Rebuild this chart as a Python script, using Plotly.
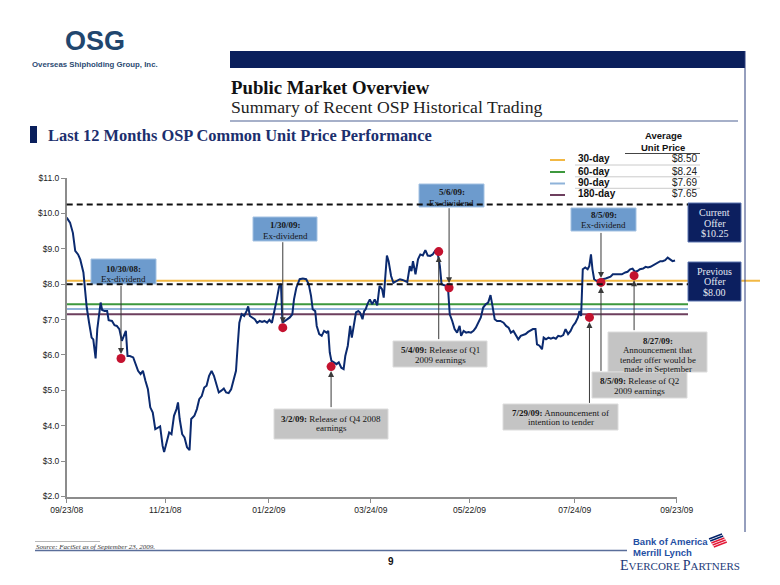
import plotly.graph_objects as go
import pandas as pd

W, H = 780, 585

# ---------------- data ----------------
start_date = "2008-09-23"
day_offsets = [
    0, 2.0, 3.7, 5.1, 6.8, 8.1, 10.0, 11.0, 12.0, 13.4,
    14.9, 15.9, 17.3, 18.3, 19.3, 20.3, 21.2, 22.7, 24.2, 25.1,
    27.1, 28.6, 30.0, 31.5, 33.0, 34.2, 35.4, 36.4, 37.8, 39.8,
    41.3, 42.7, 44.2, 45.6, 47.1, 48.6, 50.0, 51.5, 53.0, 54.4,
    55.9, 57.4, 58.3, 59.8, 61.3, 62.7, 64.2, 65.7, 66.6, 67.6,
    69.1, 70.5, 72.0, 73.5, 74.5, 76.4, 77.9, 79.3, 80.8, 82.3,
    83.7, 85.2, 86.7, 88.1, 89.6, 91.0, 92.5, 94.0, 95.4, 96.9,
    98.4, 99.8, 101.3, 102.3, 103.3, 104.7, 106.2, 107.6, 108.6, 109.6,
    111.1, 112.5, 114.0, 115.5, 116.9, 118.4, 119.9, 121.3, 122.8, 124.2,
    125.7, 127.2, 128.2, 129.1, 130.6, 132.1, 133.5, 135.0, 136.0, 137.4,
    139.4, 141.3, 143.3, 144.8, 146.2, 147.2, 148.7, 149.6, 151.1, 152.6,
    154.0, 155.5, 156.5, 157.4, 158.4, 159.9, 161.4, 162.8, 164.3, 165.7,
    166.7, 168.2, 169.6, 170.6, 171.6, 173.1, 174.5, 175.5, 177.0, 178.0,
    178.9, 179.9, 181.4, 182.8, 184.3, 185.8, 187.2, 188.7, 189.7, 190.6,
    191.6, 192.6, 194.1, 195.5, 197.5, 199.4, 200.9, 202.4, 203.8, 205.3,
    206.3, 207.2, 208.7, 210.2, 211.6, 213.1, 214.6, 216.0, 217.5, 219.0,
    220.4, 221.9, 223.3, 224.3, 225.8, 227.3, 228.2, 229.2, 230.7, 232.1,
    233.6, 235.1, 236.0, 237.5, 239.0, 240.4, 241.9, 243.4, 244.8, 246.3,
    247.8, 249.2, 250.7, 252.2, 253.6, 254.6, 256.1, 257.5, 259.5, 261.4,
    262.9, 264.4, 265.8, 267.3, 268.8, 270.2, 271.7, 273.2, 274.6, 276.1,
    277.5, 279.0, 280.5, 281.4, 282.9, 284.4, 285.4, 286.8, 288.3, 289.7,
    291.2, 292.7, 294.1, 295.6, 297.1, 298.5, 300.0, 301.5, 302.9, 304.4,
    305.9, 306.8, 307.8, 308.8, 310.3, 311.7, 312.7, 313.7, 314.6, 315.6,
    317.1, 318.6, 320.5, 322.5, 323.9, 325.4, 326.8, 328.3, 330.3, 332.2,
    334.2, 335.6, 337.1, 338.6, 340.0, 341.5, 343.0, 344.9, 346.4, 347.8,
    349.3, 350.8, 352.2, 353.7, 355.2, 356.6, 358.1, 359.6, 361.0, 362.5,
    364.0,
]
prices = [
    9.88, 9.74, 9.45, 8.94, 8.84, 8.70, 8.33, 7.86, 7.34, 6.91,
    6.49, 6.44, 5.90, 6.73, 7.20, 7.48, 7.27, 7.24, 7.24, 6.98,
    6.96, 6.84, 6.82, 6.73, 6.40, 6.54, 6.68, 5.97, 5.97, 5.93,
    5.74, 5.55, 5.46, 5.55, 5.27, 5.03, 4.52, 4.37, 3.90, 3.95,
    3.98, 3.43, 3.26, 3.53, 3.81, 3.76, 4.28, 4.47, 4.66, 4.19,
    3.76, 3.67, 3.39, 3.31, 4.19, 4.28, 4.47, 4.75, 4.84, 5.08,
    5.13, 5.41, 5.55, 5.41, 5.17, 4.94, 4.99, 5.05, 4.94, 4.92,
    5.03, 5.27, 5.55, 6.26, 6.91, 7.15, 7.10, 7.24, 7.37, 7.10,
    7.06, 7.01, 6.91, 6.96, 6.93, 6.96, 6.91, 6.99, 6.91, 7.20,
    7.57, 7.95, 8.00, 6.91, 6.96, 7.03, 7.06, 7.15, 7.57, 7.90,
    8.14, 8.16, 8.14, 8.00, 7.67, 7.29, 7.24, 6.82, 6.59, 6.54,
    6.68, 6.63, 6.68, 6.07, 5.83, 5.79, 5.74, 5.79, 5.64, 5.60,
    5.97, 6.26, 6.82, 6.49, 6.82, 7.20, 7.24, 7.20, 7.01, 7.24,
    7.29, 7.43, 7.57, 7.43, 7.57, 7.40, 7.95, 7.86, 7.62, 8.33,
    8.81, 8.65, 8.23, 8.04, 8.09, 8.14, 8.12, 8.09, 8.06, 8.51,
    8.37, 8.65, 8.28, 8.70, 8.84, 8.81, 8.96, 8.81, 8.80, 8.84,
    8.94, 8.89, 8.51, 8.00, 7.97, 7.95, 7.86, 7.15, 6.96, 6.73,
    6.63, 6.82, 6.54, 6.68, 6.63, 6.65, 6.63, 6.68, 6.77, 6.91,
    7.06, 7.34, 7.43, 7.48, 7.69, 7.43, 7.01, 6.96, 6.96, 6.91,
    6.82, 6.77, 6.63, 6.68, 6.54, 6.44, 6.54, 6.56, 6.59, 6.65,
    6.68, 6.73, 6.73, 6.30, 6.26, 6.16, 6.49, 6.44, 6.49, 6.46,
    6.49, 6.46, 6.54, 6.52, 6.56, 6.73, 6.59, 6.68, 6.82, 6.91,
    7.06, 7.24, 7.10, 8.42, 8.47, 8.42, 8.51, 8.84, 8.42, 8.14,
    8.09, 8.12, 8.14, 8.16, 8.18, 8.21, 8.28, 8.28, 8.28, 8.28,
    8.33, 8.35, 8.42, 8.44, 8.35, 8.37, 8.42, 8.44, 8.49, 8.47,
    8.49, 8.53, 8.56, 8.59, 8.65, 8.65, 8.68, 8.75, 8.70, 8.65,
    8.67,
]

x_tick_dates = ["2008-09-23", "2008-11-21", "2009-01-22", "2009-03-24",
                "2009-05-22", "2009-07-24", "2009-09-23"]
x_tick_labels = ["09/23/08", "11/21/08", "01/22/09", "03/24/09",
                 "05/22/09", "07/24/09", "09/23/09"]
y_tick_values = [2, 3, 4, 5, 6, 7, 8, 9, 10, 11]
y_tick_labels = ["$2.0", "$3.0", "$4.0", "$5.0", "$6.0", "$7.0", "$8.0",
                 "$9.0", "$10.0", "$11.0"]

event_names = ["10/30/08", "1/30/09", "3/2/09", "5/4/09", "5/6/09",
               "7/29/09", "8/5/09", "8/27/09"]
event_day_offsets = [32.5, 129.3, 158.2, 222.6, 228.8, 312.8, 319.7, 339.5]
event_prices = [5.90, 6.77, 5.67, 8.92, 7.90, 7.06, 8.05, 8.24]

avg_labels = ["30-day", "60-day", "90-day", "180-day"]
avg_values = ["$8.50", "$8.24", "$7.69", "$7.65"]
avg_line_levels = [8.10, 7.43, 7.30, 7.15]
avg_colors = ["#f2b844", "#3d983d", "#8fb3d9", "#6d3f5e"]

current_offer = 10.25
previous_offer = 8.00

# ---------------- helpers ----------------
SERIF = "Liberation Serif, Times New Roman, serif"
SANS = "Liberation Sans, Arial, sans-serif"


def px(x):
    return x / W


def py(y):
    return 1 - y / H


t0 = pd.Timestamp(start_date)
dates = t0 + pd.to_timedelta(day_offsets, unit="D")
event_dates = t0 + pd.to_timedelta(event_day_offsets, unit="D")

X0, X1 = 66.7, 676.7
Y_TOP, Y_BOT = 178.0, 496.5

fig = go.Figure()
fig.add_trace(go.Scatter(x=dates, y=prices, mode="lines",
                         line=dict(color="#0b2a6f", width=2),
                         hoverinfo="skip"))
fig.add_trace(go.Scatter(x=event_dates, y=event_prices, mode="markers",
                         marker=dict(color="#c4122f", size=9),
                         text=event_names, hoverinfo="text"))

shapes = []
annotations = []


def rect(x0, y0, x1, y1, fill, border=None, width=1, layer="above"):
    shapes.append(dict(type="rect", xref="paper", yref="paper",
                       x0=px(x0), x1=px(x1), y0=py(y1), y1=py(y0),
                       fillcolor=fill, layer=layer,
                       line=dict(color=border or fill, width=width if border else 0)))


def hline(x0, x1, y, color, width=1, dash=None):
    shapes.append(dict(type="line", xref="paper", yref="paper",
                       x0=px(x0), x1=px(x1), y0=py(y), y1=py(y),
                       line=dict(color=color, width=width, dash=dash), layer="above"))


def text(x, y, s, size, family=SERIF, color="#1a1a1a", xanchor="center"):
    annotations.append(dict(xref="paper", yref="paper", x=px(x), y=py(y),
                            text=s, showarrow=False, xanchor=xanchor,
                            yanchor="middle", borderpad=0,
                            font=dict(size=size, family=family, color=color)))


def box(x0, y0, x1, y1, fill, border, lines, ys, size=9, color="#161616"):
    rect(x0, y0, x1, y1, fill, border)
    cx = (x0 + x1) / 2
    for s, yy in zip(lines, ys):
        text(cx, yy, s, size, SERIF, color)


# ----- horizontal average lines (behind price line) -----
for lvl, col in zip(avg_line_levels, avg_colors):
    x_end = 760 if col == avg_colors[0] else 688
    shapes.append(dict(type="line", xref="paper", yref="y",
                       x0=px(X0), x1=px(x_end), y0=lvl, y1=lvl,
                       line=dict(color=col, width=2), layer="below"))

# ----- page decorations -----
rect(230, 51, 745, 68, "#0a1f5c")
shapes.append(dict(type="line", xref="paper", yref="paper",
                   x0=px(745), x1=px(745), y0=py(51), y1=py(532),
                   line=dict(color="#2c3f7c", width=1)))
hline(230, 738, 121, "#4f6394", 1.2)
rect(30, 126, 37, 143, "#0a1f5c")

# ----- event boxes -----
BLUE, BLUE_B = "#6d9bcd", "#a3c1e2"
GREY, GREY_B = "#c4c4c4", "#dcdcdc"
box(91, 259, 156, 284, BLUE, BLUE_B, ["<b>10/30/08:</b>", "Ex-dividend"], [269, 278.5])
box(253, 217, 317, 241, BLUE, BLUE_B, ["<b>1/30/09:</b>", "Ex-dividend"], [225.5, 235.5])
box(419, 184, 484, 207, BLUE, BLUE_B, ["<b>5/6/09:</b>", "Ex-dividend"], [192.5, 202.5])
box(571, 208, 636, 231, BLUE, BLUE_B, ["<b>8/5/09:</b>", "Ex-dividend"], [215, 225])
box(274, 409, 388, 439, GREY, GREY_B, ["<b>3/2/09:</b> Release of Q4 2008", "earnings"], [418.5, 428.5])
box(393, 341, 487, 367, GREY, GREY_B, ["<b>5/4/09:</b> Release of Q1", "2009 earnings"], [349.5, 359.5])
box(503, 404, 618, 430, GREY, GREY_B, ["<b>7/29/09:</b> Announcement of", "intention to tender"], [412.5, 422])
box(608, 332, 707, 372, GREY, GREY_B,
    ["<b>8/27/09:</b>", "Announcement that", "tender offer would be", "made in September"],
    [340.5, 350, 359.5, 369], size=8.8)
box(592, 372, 687, 398, GREY, GREY_B, ["<b>8/5/09:</b> Release of Q2", "2009 earnings"], [381, 391])

NAVY, NAVY_B = "#0c1f5f", "#5b74b0"
box(688, 203, 741, 242, NAVY, NAVY_B, ["Current", "Offer", "$10.25"], [212.5, 223, 233.5],
    size=10, color="#e4e8f2")
box(688, 262, 741, 301, NAVY, NAVY_B, ["Previous", "Offer", "$8.00"], [271, 281.5, 292],
    size=10, color="#e4e8f2")

# ----- offer dashed lines (on top) -----
for lvl in [current_offer, previous_offer]:
    shapes.append(dict(type="line", xref="paper", yref="y",
                       x0=px(X0), x1=px(688), y0=lvl, y1=lvl,
                       line=dict(color="#111111", width=2, dash="6px,4px"), layer="above"))

# ----- arrows from boxes to event dots -----
arrow_specs = [  # (event index, vertical offset of box edge in px)
    (0, -74), (1, -87), (2, 42), (3, 89), (4, -81), (5, 87), (6, -51), (6, 90), (7, 56),
]
for idx, off in arrow_specs:
    annotations.append(dict(x=event_dates[idx], y=event_prices[idx], xref="x", yref="y",
                            text="", showarrow=True, ax=0, ay=off,
                            arrowhead=2, arrowsize=1.2, arrowwidth=1,
                            arrowcolor="#3a3a3a", standoff=4.5))

# ----- header texts -----
text(95, 41, "<b>OSG</b>", 27, SANS, "#21466e")
text(95, 64, "<b>Overseas Shipholding Group, Inc.</b>", 7.8, SANS, "#2b4a72")
text(230, 87, "<b>Public Market Overview</b>", 18.8, SERIF, "#111111", "left")
text(230, 106.5, "Summary of Recent OSP Historical Trading", 17.7, SERIF, "#222222", "left")
text(47, 135, "<b>Last 12 Months OSP Common Unit Price Performance</b>", 16.4, SERIF, "#1c2f6e", "left")

# ----- average price table -----
text(663, 135.5, "<b>Average</b>", 9.5, SANS, "#111")
text(663, 147, "<b>Unit Price</b>", 9.5, SANS, "#111")
hline(625, 700, 153.5, "#444444", 1)
row_ys = [159, 171, 182.5, 194]
for lab, val, col, yy in zip(avg_labels, avg_values, avg_colors, row_ys):
    hline(550, 565, yy + 1, col, 2)
    text(577, yy, "<b>%s</b>" % lab, 10, SANS, "#111", "left")
    text(698, yy, val, 10, SANS, "#222", "right")
for yy in [165, 176.8, 188.3]:
    hline(575, 700, yy, "#bdbdbd", 0.8)

# ----- footer -----
hline(35, 100, 541.5, "#9a9a9a", 0.7)
text(35, 546.5, "<i>Source: FactSet as of September 23, 2009.</i>", 7, SERIF, "#333", "left")
hline(35, 627, 550.5, "#5a6e9a", 1.5)
text(391, 561, "<b>9</b>", 10, SANS, "#111")
text(632, 541, "<b>Bank of America</b>", 9.5, SANS, "#1f4fa3", "left")
text(632, 552.5, "<b>Merrill Lynch</b>", 9.5, SANS, "#1f4fa3", "left")
for i, col in enumerate(["#012169", "#012169", "#e31837", "#e31837", "#e31837"]):
    shapes.append(dict(type="line", xref="paper", yref="paper",
                       x0=px(709 + i * 1.2), y0=py(539 + i * 2.0),
                       x1=px(722 + i * 1.2), y1=py(534 + i * 2.0),
                       line=dict(color=col, width=1.4)))
text(619, 565,
     "<span style='font-size:14px'>E</span>VERCORE <span style='font-size:14px'>P</span>ARTNERS",
     11, SERIF, "#1d3a78", "left")

fig.update_layout(
    template="none",
    width=W, height=H,
    margin=dict(l=0, r=0, t=0, b=0, pad=0, autoexpand=False),
    paper_bgcolor="white", plot_bgcolor="white",
    showlegend=False,
    shapes=shapes, annotations=annotations,
    xaxis=dict(type="date", domain=[px(X0), px(X1)], automargin=False,
               range=[t0, t0 + pd.Timedelta(days=365)],
               tickvals=x_tick_dates, ticktext=x_tick_labels,
               showline=True, linecolor="#8c8c8c", linewidth=2,
               ticks="outside", ticklen=4, tickcolor="#8c8c8c", tickwidth=1,
               showgrid=False, zeroline=False,
               tickfont=dict(size=8.5, family=SANS, color="#222")),
    yaxis=dict(domain=[py(Y_BOT), py(Y_TOP)], range=[2, 11], automargin=False,
               tickvals=y_tick_values, ticktext=y_tick_labels,
               showline=True, linecolor="#8c8c8c", linewidth=1.5,
               ticks="outside", ticklen=4, tickcolor="#8c8c8c", tickwidth=1,
               showgrid=False, zeroline=False,
               tickfont=dict(size=8.5, family=SANS, color="#222")),
)

fig.write_html("out.html", config={"displayModeBar": False},
               post_script="document.body.style.margin='0';document.body.style.overflow='hidden';")
